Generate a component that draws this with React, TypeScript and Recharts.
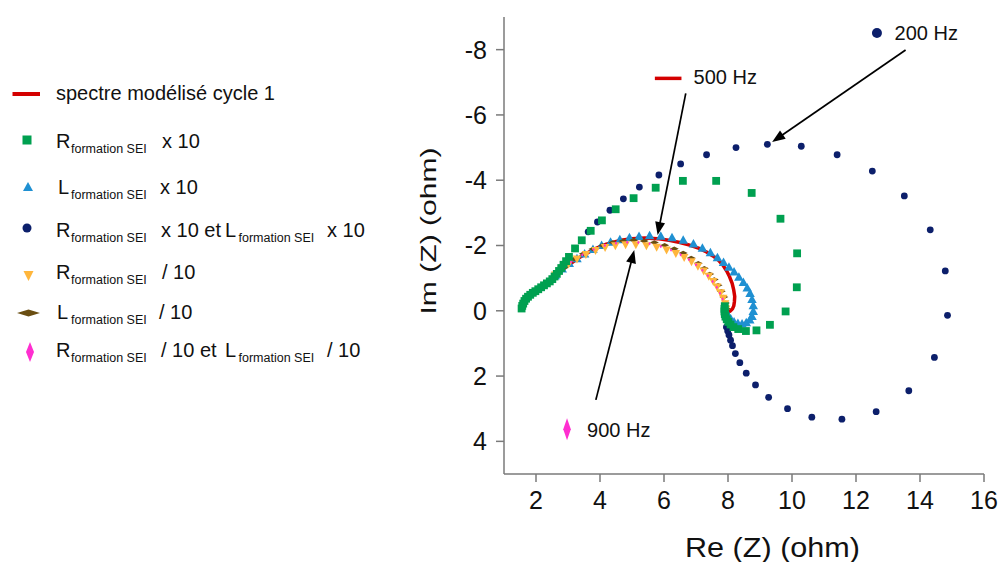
import React from 'react';
import { ScatterChart, Scatter, XAxis, YAxis, ReferenceLine, ReferenceDot } from 'recharts';

type P = [number, number];
const toPts = (a: P[]) => a.map(([x, y]) => ({ x, y }));

// spectre modélisé cycle 1 (red line)
const redModel: P[] = [
  [2.4, -0.9], [2.6, -1.07], [3.0, -1.39], [3.4, -1.66], [3.8, -1.88], [4.2, -2.04], [4.6, -2.15],
  [5.0, -2.21], [5.4, -2.23], [5.8, -2.21], [6.2, -2.15], [6.5, -2.09], [6.8, -2.01], [7.1, -1.91],
  [7.33, -1.8], [7.53, -1.68], [7.7, -1.55], [7.84, -1.4], [7.96, -1.22], [8.05, -1.04], [8.13, -0.84],
  [8.18, -0.63], [8.21, -0.44], [8.2, -0.28], [8.18, -0.15], [8.14, -0.06], [8.07, 0.01], [7.99, 0.04], [7.93, 0.03],
];

// R formation SEI x 10 (green squares)
const rX10: P[] = [
  [1.55, -0.07], [1.57, -0.15], [1.6, -0.22], [1.64, -0.3], [1.69, -0.37], [1.75, -0.43], [1.82, -0.49],
  [1.9, -0.55], [1.98, -0.6], [2.07, -0.66], [2.16, -0.72], [2.25, -0.78], [2.34, -0.84], [2.43, -0.9],
  [2.51, -0.97], [2.58, -1.05], [2.65, -1.13], [2.72, -1.22], [2.79, -1.31], [2.86, -1.41], [2.94, -1.52],
  [3.03, -1.65], [3.22, -1.91], [3.43, -2.16], [3.71, -2.45], [4.06, -2.77], [4.49, -3.11], [5.05, -3.45],
  [5.74, -3.77], [6.59, -3.98], [7.63, -3.98], [8.74, -3.61], [9.64, -2.82], [10.16, -1.76], [10.15, -0.72],
  [9.8, 0.02], [9.31, 0.43], [8.89, 0.6], [8.56, 0.62], [8.32, 0.56], [8.17, 0.5], [8.08, 0.42], [8.01, 0.34],
  [7.96, 0.26], [7.92, 0.18], [7.9, 0.1], [7.89, 0.02], [7.89, -0.06], [7.9, -0.14],
];

// L formation SEI x 10 (blue triangles)
const lX10: P[] = [
  [2.6, -1.1], [2.82, -1.3], [3.04, -1.47], [3.28, -1.62], [3.52, -1.76], [3.78, -1.9], [4.05, -2.02],
  [4.33, -2.12], [4.62, -2.2], [4.92, -2.26], [5.22, -2.3], [5.55, -2.32], [5.9, -2.31], [6.25, -2.26],
  [6.6, -2.18], [6.92, -2.07], [7.2, -1.94], [7.45, -1.8], [7.67, -1.65], [7.86, -1.5], [8.03, -1.36],
  [8.19, -1.21], [8.34, -1.05], [8.48, -0.89], [8.6, -0.72], [8.69, -0.55], [8.75, -0.37], [8.79, -0.18],
  [8.79, 0.0], [8.75, 0.15], [8.68, 0.26], [8.57, 0.34], [8.44, 0.38], [8.31, 0.37], [8.19, 0.32],
  [8.09, 0.24], [8.01, 0.14], [7.96, 0.04],
];

// R x 10 et L x 10 (navy circles)
const rlX10: P[] = [
  [3.63, -2.42], [3.92, -2.72], [4.31, -3.08], [4.73, -3.43], [5.23, -3.79], [5.84, -4.16], [6.52, -4.5],
  [7.33, -4.78], [8.25, -5.0], [9.23, -5.1], [10.29, -5.04], [11.41, -4.78], [12.51, -4.28], [13.51, -3.52],
  [14.32, -2.48], [14.79, -1.22], [14.86, 0.14], [14.45, 1.43], [13.65, 2.45], [12.63, 3.09], [11.56, 3.32],
  [10.62, 3.26], [9.86, 3.0], [9.27, 2.65], [8.86, 2.27], [8.57, 1.91], [8.37, 1.59], [8.23, 1.31],
  [8.14, 1.07], [8.08, 0.9], [8.03, 0.74], [7.99, 0.62], [7.95, 0.5],
];

// R formation SEI / 10 (yellow down triangles)
const rDiv10: P[] = [
  [2.6, -1.08], [2.8, -1.26], [3.02, -1.42], [3.28, -1.57], [3.56, -1.71], [3.86, -1.83], [4.16, -1.92],
  [4.48, -1.98], [4.8, -2.01], [5.12, -2.01], [5.45, -1.98], [5.77, -1.93], [6.08, -1.85], [6.37, -1.74],
  [6.63, -1.62], [6.86, -1.49], [7.06, -1.35], [7.24, -1.2], [7.4, -1.04], [7.54, -0.88], [7.66, -0.71],
  [7.77, -0.54], [7.85, -0.37], [7.91, -0.2], [7.94, -0.04],
];

// L formation SEI / 10 (brown diamonds)
const lDiv10: P[] = [
  [2.7, -1.22], [2.95, -1.42], [3.2, -1.59], [3.48, -1.75], [3.78, -1.89], [4.08, -2.0], [4.4, -2.09],
  [4.72, -2.14], [5.05, -2.16], [5.38, -2.14], [5.7, -2.09], [6.02, -2.01], [6.32, -1.9], [6.6, -1.77],
  [6.85, -1.62], [7.07, -1.46], [7.26, -1.3], [7.43, -1.13], [7.57, -0.96], [7.69, -0.78], [7.79, -0.6],
  [7.87, -0.42], [7.92, -0.24], [7.95, -0.06],
];

// R / 10 et L / 10 (pink diamonds)
const rlDiv10: P[] = [
  [2.75, -1.22], [3.1, -1.5], [3.45, -1.72], [3.8, -1.88], [4.15, -2.0], [4.5, -2.07], [4.85, -2.1],
  [5.2, -2.09], [5.55, -2.05], [5.9, -1.97], [6.22, -1.86], [6.52, -1.72], [6.78, -1.57], [7.0, -1.41],
  [7.2, -1.24], [7.37, -1.07], [7.52, -0.9], [7.65, -0.72], [7.75, -0.54], [7.83, -0.36], [7.88, -0.18], [7.91, 0.0],
];

const xTicks = [2, 4, 6, 8, 10, 12, 14, 16];
const yTicks = [-8, -6, -4, -2, 0, 2, 4];

// frequency annotations
const annotLabels = ['200 Hz', '500 Hz', '900 Hz'];
const annotAnchors: P[] = [[12.655, -8.51], [6.13, -7.12], [2.97, 3.63]];
const arrowFrom: P[] = [[13.55, -7.99], [6.68, -6.66], [3.87, 2.73]];
const arrowTo: P[] = [[9.38, -5.17], [5.8, -2.32], [5.07, -1.86]];

const FONT = '"Liberation Sans", Arial, Helvetica, sans-serif';
const RED = '#d40000';
const GREEN = '#00a050';
const BLUE = '#1f90d2';
const NAVY = '#0c1f6b';
const YELLOW = '#ffb63c';
const BROWN = '#6a4e12';
const PINK = '#ff2ed0';

const squareShape = (color: string, s: number) => (p: any) =>
  p.cx == null ? <g /> : <rect x={p.cx - s / 2} y={p.cy - s / 2} width={s} height={s} fill={color} />;
const triUpShape = (color: string, w: number, h: number) => (p: any) =>
  p.cx == null ? <g /> : (
    <polygon points={`${p.cx},${p.cy - h / 2} ${p.cx + w / 2},${p.cy + h / 2} ${p.cx - w / 2},${p.cy + h / 2}`} fill={color} />
  );
const triDownShape = (color: string, w: number, h: number) => (p: any) =>
  p.cx == null ? <g /> : (
    <polygon points={`${p.cx - w / 2},${p.cy - h / 2} ${p.cx + w / 2},${p.cy - h / 2} ${p.cx},${p.cy + h / 2}`} fill={color} />
  );
const diamondShape = (color: string, w: number, h: number) => (p: any) =>
  p.cx == null ? <g /> : (
    <polygon points={`${p.cx},${p.cy - h / 2} ${p.cx + w / 2},${p.cy} ${p.cx},${p.cy + h / 2} ${p.cx - w / 2},${p.cy}`} fill={color} />
  );
const dotShape = (color: string, r: number) => (p: any) =>
  p.cx == null ? <g /> : <circle cx={p.cx} cy={p.cy} r={r} fill={color} />;
const noShape = () => <g />;

const Arrow = (props: any) => {
  const { x1, y1, x2, y2 } = props;
  if ([x1, y1, x2, y2].some((v) => v == null || isNaN(v))) return <g />;
  const dx = x2 - x1;
  const dy = y2 - y1;
  const len = Math.hypot(dx, dy) || 1;
  const ux = dx / len;
  const uy = dy / len;
  const hl = 13;
  const hw = 5;
  const bx = x2 - ux * hl;
  const by = y2 - uy * hl;
  return (
    <g>
      <line x1={x1} y1={y1} x2={bx + ux * 2} y2={by + uy * 2} stroke="#000" strokeWidth={1.7} />
      <polygon points={`${x2},${y2} ${bx - uy * hw},${by + ux * hw} ${bx + uy * hw},${by - ux * hw}`} fill="#000" />
    </g>
  );
};

const annotShape = (i: number) => (p: any) => {
  const { cx, cy } = p;
  if (cx == null) return <g />;
  const textStyle = { fontFamily: FONT, fontSize: 20, fill: '#111' } as any;
  if (i === 0)
    return (
      <g>
        <circle cx={cx} cy={cy} r={5} fill={NAVY} />
        <text x={cx + 17.6} y={cy + 7} style={textStyle}>{annotLabels[0]}</text>
      </g>
    );
  if (i === 1)
    return (
      <g>
        <line x1={cx - 13.3} y1={cy} x2={cx + 13.3} y2={cy} stroke={RED} strokeWidth={3.5} />
        <text x={cx + 25.4} y={cy + 5.5} style={textStyle}>{annotLabels[1]}</text>
      </g>
    );
  return (
    <g>
      <polygon points={`${cx},${cy - 11} ${cx + 3.8},${cy} ${cx},${cy + 11} ${cx - 3.8},${cy}`} fill={PINK} />
      <text x={cx + 20} y={cy + 7.4} style={textStyle}>{annotLabels[2]}</text>
    </g>
  );
};

const legendRows = [
  { main: 'R', tail: 'x 10', y: 148, mainX: 56, tailX: 162 },
  { main: 'L', tail: 'x 10', y: 194, mainX: 58, tailX: 160 },
  { main: 'R', tail: 'x 10 et', y: 237, mainX: 56, tailX: 161, second: 'x 10' },
  { main: 'R', tail: '/ 10', y: 279, mainX: 56, tailX: 162 },
  { main: 'L', tail: '/ 10', y: 319, mainX: 57, tailX: 159 },
  { main: 'R', tail: '/ 10 et', y: 357, mainX: 56, tailX: 161, second: '/ 10' },
];

const Overlay = () => {
  const t = { fontFamily: FONT, fill: '#111' } as any;
  return (
    <svg width={1008} height={562} style={{ position: 'absolute', left: 0, top: 0, pointerEvents: 'none' }}>
      {/* legend markers */}
      <line x1={12.5} y1={94} x2={40} y2={94} stroke={RED} strokeWidth={4} />
      <rect x={22.5} y={135.5} width={9} height={9} fill={GREEN} />
      <polygon points="28,182 33,191 23,191" fill={BLUE} />
      <circle cx={27} cy={228} r={4.5} fill={NAVY} />
      <polygon points="23.5,271 33.5,271 28.5,281" fill={YELLOW} />
      <polygon points="17,313 28.5,309.5 40,313 28.5,316.5" fill={BROWN} />
      <polygon points="30,342 34,352 30,362 26,352" fill={PINK} />
      <text x={56} y={100} style={{ ...t, fontSize: 20 }}>spectre modélisé cycle 1</text>
      {legendRows.map((r, i) => (
        <g key={i}>
          <text x={r.mainX} y={r.y} style={{ ...t, fontSize: 20 }}>{r.main}</text>
          <text x={71} y={r.y + 5} style={{ ...t, fontSize: 12.5 }}>formation SEI</text>
          <text x={r.tailX} y={r.y} style={{ ...t, fontSize: 20 }}>{r.tail}</text>
          {r.second ? (
            <g>
              <text x={225} y={r.y} style={{ ...t, fontSize: 20 }}>L</text>
              <text x={238.5} y={r.y + 5} style={{ ...t, fontSize: 12.5 }}>formation SEI</text>
              <text x={327} y={r.y} style={{ ...t, fontSize: 20 }}>{r.second}</text>
            </g>
          ) : null}
        </g>
      ))}
      {/* axis titles */}
      <text
        transform="translate(436,231) rotate(-90)"
        textAnchor="middle"
        textLength={167}
        lengthAdjust="spacingAndGlyphs"
        style={{ ...t, fontSize: 22 }}
      >
        Im (Z) (ohm)
      </text>
      <text x={772.5} y={557} textAnchor="middle" textLength={175} lengthAdjust="spacingAndGlyphs" style={{ ...t, fontSize: 28 }}>
        Re (Z) (ohm)
      </text>
    </svg>
  );
};

export default function App() {
  const axisStroke = { stroke: '#7a7a7a', strokeWidth: 1.5 };
  const tickStyle = { fontSize: 25, fill: '#111', fontFamily: FONT };
  return (
    <div style={{ position: 'absolute', left: 0, top: 0, width: 1008, height: 562, background: '#fff', overflow: 'hidden' }}>
      <ScatterChart width={1008} height={562} margin={{ top: 17, right: 24, bottom: 28, left: 404 }}>
        <XAxis
          type="number"
          dataKey="x"
          domain={[1, 16]}
          ticks={xTicks}
          interval={0}
          height={60}
          allowDataOverflow
          axisLine={axisStroke}
          tickLine={axisStroke}
          tickSize={8}
          tickMargin={9}
          tick={tickStyle}
        />
        <YAxis
          type="number"
          dataKey="y"
          domain={[-9, 5]}
          ticks={yTicks}
          interval={0}
          reversed
          width={100}
          allowDataOverflow
          axisLine={axisStroke}
          tickLine={axisStroke}
          tickSize={8}
          tickMargin={9}
          tick={tickStyle}
        />
        <Scatter
          data={toPts(redModel)}
          fill={RED}
          line={{ stroke: RED, strokeWidth: 3.5, strokeLinejoin: 'round', strokeLinecap: 'round' }}
          lineType="joint"
          shape={noShape}
          isAnimationActive={false}
        />
        <Scatter data={toPts(rlX10)} fill={NAVY} shape={dotShape(NAVY, 3.4)} isAnimationActive={false} />
        <Scatter data={toPts(lX10)} fill={BLUE} shape={triUpShape(BLUE, 9.5, 8.5)} isAnimationActive={false} />
        <Scatter data={toPts(lDiv10)} fill={BROWN} shape={diamondShape(BROWN, 9, 4.5)} isAnimationActive={false} />
        <Scatter data={toPts(rDiv10)} fill={YELLOW} shape={triDownShape(YELLOW, 8.5, 8)} isAnimationActive={false} />
        <Scatter data={toPts(rlDiv10)} fill={PINK} shape={diamondShape(PINK, 2.5, 3.5)} isAnimationActive={false} />
        <Scatter data={toPts(rX10)} fill={GREEN} shape={squareShape(GREEN, 7.8)} isAnimationActive={false} />
        {arrowFrom.map((f, i) => (
          <ReferenceLine
            key={'a' + i}
            segment={[{ x: f[0], y: f[1] }, { x: arrowTo[i][0], y: arrowTo[i][1] }]}
            ifOverflow="visible"
            shape={Arrow}
          />
        ))}
        {annotAnchors.map((a, i) => (
          <ReferenceDot key={'d' + i} x={a[0]} y={a[1]} r={0} ifOverflow="visible" shape={annotShape(i)} />
        ))}
      </ScatterChart>
      <Overlay />
    </div>
  );
}
